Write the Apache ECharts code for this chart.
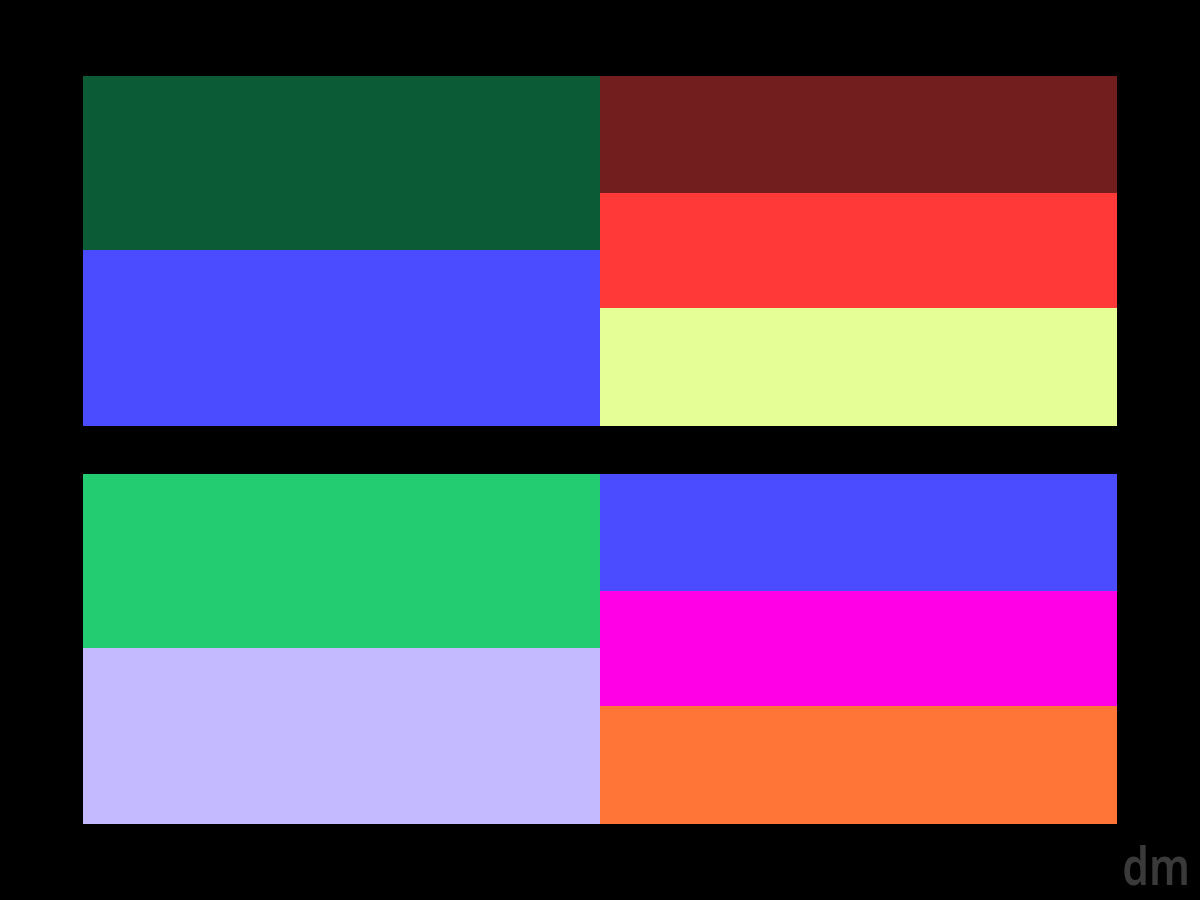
<!DOCTYPE html>
<html>
<head>
<meta charset="utf-8">
<title>Stacked columns</title>
<script src="https://cdn.jsdelivr.net/npm/echarts@6/dist/echarts.min.js"></script>
<style>
    html, body { margin: 0; padding: 0; background: #000; }
    #chart { width: 1200px; height: 900px; }
</style>
</head>
<body>
<div id="chart"></div>
<script>
// two columns per panel, shares in percent (bottom segment first)
var categories = ['A', 'B'];

var topLeftShares = [50.3, 49.7];
var topLeftColors = ['#4B4BFF', '#0B5C36'];
var topRightShares = [33.7, 32.9, 33.4];
var topRightColors = ['#E5FF96', '#FF3838', '#731E1E'];

var bottomLeftShares = [50.3, 49.7];
var bottomLeftColors = ['#C4BAFF', '#24CC71'];
var bottomRightShares = [33.7, 32.9, 33.4];
var bottomRightColors = ['#FF7538', '#FF00E6', '#4B4BFF'];

function buildSeries(panel, leftShares, leftColors, rightShares, rightColors) {
    var series = [];
    var n = Math.max(leftShares.length, rightShares.length);
    for (var i = 0; i < n; i++) {
        var data = [];
        data.push(i < leftShares.length
            ? { value: leftShares[i], itemStyle: { color: leftColors[i] } }
            : { value: 0 });
        data.push(i < rightShares.length
            ? { value: rightShares[i], itemStyle: { color: rightColors[i] } }
            : { value: 0 });
        series.push({
            type: 'bar',
            name: 'p' + panel + '-' + i,
            xAxisIndex: panel,
            yAxisIndex: panel,
            stack: 'panel' + panel,
            barCategoryGap: 0,
            barGap: 0,
            silent: true,
            data: data
        });
    }
    return series;
}

function xAxisFor(panel) {
    return {
        type: 'category',
        gridIndex: panel,
        data: categories,
        axisLine: { show: false },
        axisTick: { show: false },
        axisLabel: { show: false }
    };
}

function yAxisFor(panel) {
    return {
        type: 'value',
        gridIndex: panel,
        min: 0,
        max: 100,
        axisLine: { show: false },
        axisTick: { show: false },
        axisLabel: { show: false },
        splitLine: { show: false }
    };
}

var chart = echarts.init(document.getElementById('chart'));
var option = {
    backgroundColor: '#000000',
    animation: false,
    grid: [
        { left: 83, top: 76, width: 1034, height: 350 },
        { left: 83, top: 474, width: 1034, height: 350 }
    ],
    xAxis: [xAxisFor(0), xAxisFor(1)],
    yAxis: [yAxisFor(0), yAxisFor(1)],
    series: buildSeries(0, topLeftShares, topLeftColors, topRightShares, topRightColors)
        .concat(buildSeries(1, bottomLeftShares, bottomLeftColors, bottomRightShares, bottomRightColors)),
    graphic: [{
        type: 'text',
        right: 10,
        bottom: 4,
        scaleX: 0.82,
        style: {
            text: 'dm',
            fill: '#3a3a3a',
            font: '600 52px "Noto Sans"'
        }
    }]
};
chart.setOption(option);
</script>
</body>
</html>
